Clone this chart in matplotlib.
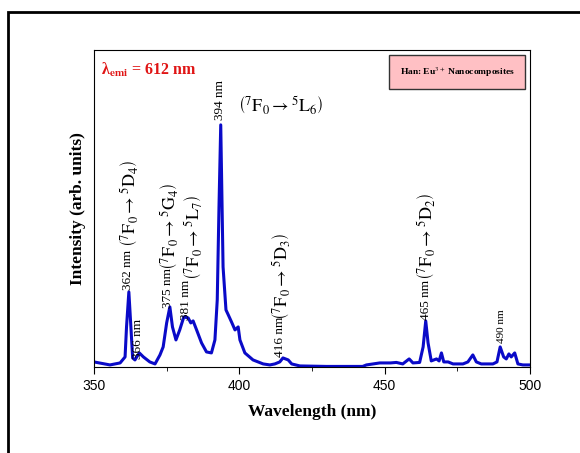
import matplotlib
matplotlib.use('Agg')
import matplotlib.pyplot as plt
from matplotlib.patches import Rectangle
from matplotlib.ticker import MultipleLocator

plt.rcParams['mathtext.fontset'] = 'stix'

# excitation spectrum (intensity in arbitrary units)
wavelength = [350, 355.5, 359, 360.7, 361.2, 362, 362.7, 363.3, 364.1, 365.6,
              367, 369.2, 371, 372.7, 373.8, 375, 376.1, 377, 378.2, 379.5,
              380.9, 382.4, 383.3, 384.1, 385.3, 387, 388.7, 390.4, 391.6, 392.4,
              393.0, 393.6, 394.4, 395.4, 396.2, 397.3, 398.5, 399.6, 400.2, 401.9,
              404.7, 408.2, 410.5, 412.2, 413.9, 415, 416.8, 418, 420.8, 430,
              442.4, 443.7, 448.3, 452, 454, 456.2, 458.4, 459.7, 462, 463.2,
              464.1, 464.9, 466, 467.8, 468.7, 469.5, 470.3, 471.8, 473.5, 476.9,
              478.6, 480.3, 481.5, 483.2, 487.2, 488.6, 489.7, 490.9, 491.8, 492.7,
              493.5, 494.7, 495.8, 497.5, 500]
intensity = [5, 2, 4, 10, 40, 75, 40, 9, 7, 14,
             10, 5, 3, 12, 20, 44, 60, 40, 27, 37,
             50, 49, 44, 46, 37, 24, 15, 14, 27, 67,
             160, 242, 100, 57, 52, 45, 37, 40, 27, 14,
             7, 3, 2, 3, 5, 9, 7, 3, 1, 0.5,
             0.5, 2, 4, 4, 4.5, 3, 8, 4, 4.5, 20,
             46, 24, 6, 8, 6, 14, 5, 5, 3, 3,
             5, 12, 5, 3, 3, 5, 20, 10, 8, 13,
             10, 14, 3, 2, 2]

# peak labels: (x, y, text, fontsize)
peak_labels = [
    (361.7, 77, '362 nm', 9.5),
    (365.1, 8, '366 nm', 9.5),
    (375.5, 59, '375 nm', 9.5),
    (381.6, 47, '381 nm', 9.5),
    (393.4, 247, '394 nm', 9.5),
    (414.0, 10, '416 nm', 9.5),
    (464.1, 47, '465 nm', 9.5),
    (490.3, 24, '490 nm', 8),
]
transitions = [
    (362.3, 120, r'$\left(^7\mathrm{F}_0 \rightarrow {}^5\mathrm{D}_4\right)$'),
    (376.2, 97, r'$\left(^7\mathrm{F}_0 \rightarrow {}^5\mathrm{G}_4\right)$'),
    (384.4, 87, r'$\left(^7\mathrm{F}_0 \rightarrow {}^5\mathrm{L}_7\right)$'),
    (414.6, 47, r'$\left(^7\mathrm{F}_0 \rightarrow {}^5\mathrm{D}_3\right)$'),
    (464.4, 87, r'$\left(^7\mathrm{F}_0 \rightarrow {}^5\mathrm{D}_2\right)$'),
]

fig = plt.figure(figsize=(5.8, 4.53), dpi=100)
ax = fig.add_axes([0.162, 0.19, 0.752, 0.70])

ax.plot(wavelength, intensity, color='#0a0ac8', lw=2.2)
ax.set_xlim(350, 500)
ax.set_ylim(0, 317)
ax.set_yticks([])
ax.xaxis.set_major_locator(MultipleLocator(50))
ax.xaxis.set_minor_locator(MultipleLocator(25))
ax.tick_params(axis='x', which='major', direction='out', length=5, labelsize=10)
ax.tick_params(axis='x', which='minor', direction='out', length=3)
for lab in ax.get_xticklabels():
    lab.set_fontfamily('Liberation Sans')

ax.set_xlabel('Wavelength (nm)', fontfamily='Liberation Serif',
              fontweight='bold', fontsize=12.5, labelpad=8)
ax.set_ylabel('Intensity (arb. units)', fontfamily='Liberation Serif',
              fontweight='bold', fontsize=12.5, labelpad=6)

for x, y, s, fs in peak_labels:
    ax.text(x, y, s, rotation=90, ha='center', va='bottom', fontsize=fs,
            fontfamily='Liberation Serif')
for x, y, s in transitions:
    ax.text(x, y, s, rotation=90, ha='center', va='bottom', fontsize=13)

ax.text(414.3, 261, r'$\left(^7\mathrm{F}_0 \rightarrow {}^5\mathrm{L}_6\right)$',
        ha='center', va='center', fontsize=13)

ax.text(0.015, 0.965, r'λ$_{\mathbf{emi}}$ = 612 nm', transform=ax.transAxes,
        ha='left', va='top', color='#e01515', fontsize=11.5,
        fontfamily='Liberation Serif', fontweight='bold')

ax.text(0.833, 0.93, r'Han: Eu$^{3+}$ Nanocomposites', transform=ax.transAxes,
        ha='center', va='center', fontsize=6.8, fontfamily='Liberation Serif',
        fontweight='bold',
        bbox=dict(boxstyle='square,pad=1.1', fc='#ffc0c4', ec='#333333', lw=1))

# outer frame of the figure panel
fig.add_artist(Rectangle((8 / 580, -0.1), 1.2, 1.1 - 12 / 453,
                         transform=fig.transFigure, fill=False, ec='black', lw=2))

fig.savefig('out.png', dpi=100)
